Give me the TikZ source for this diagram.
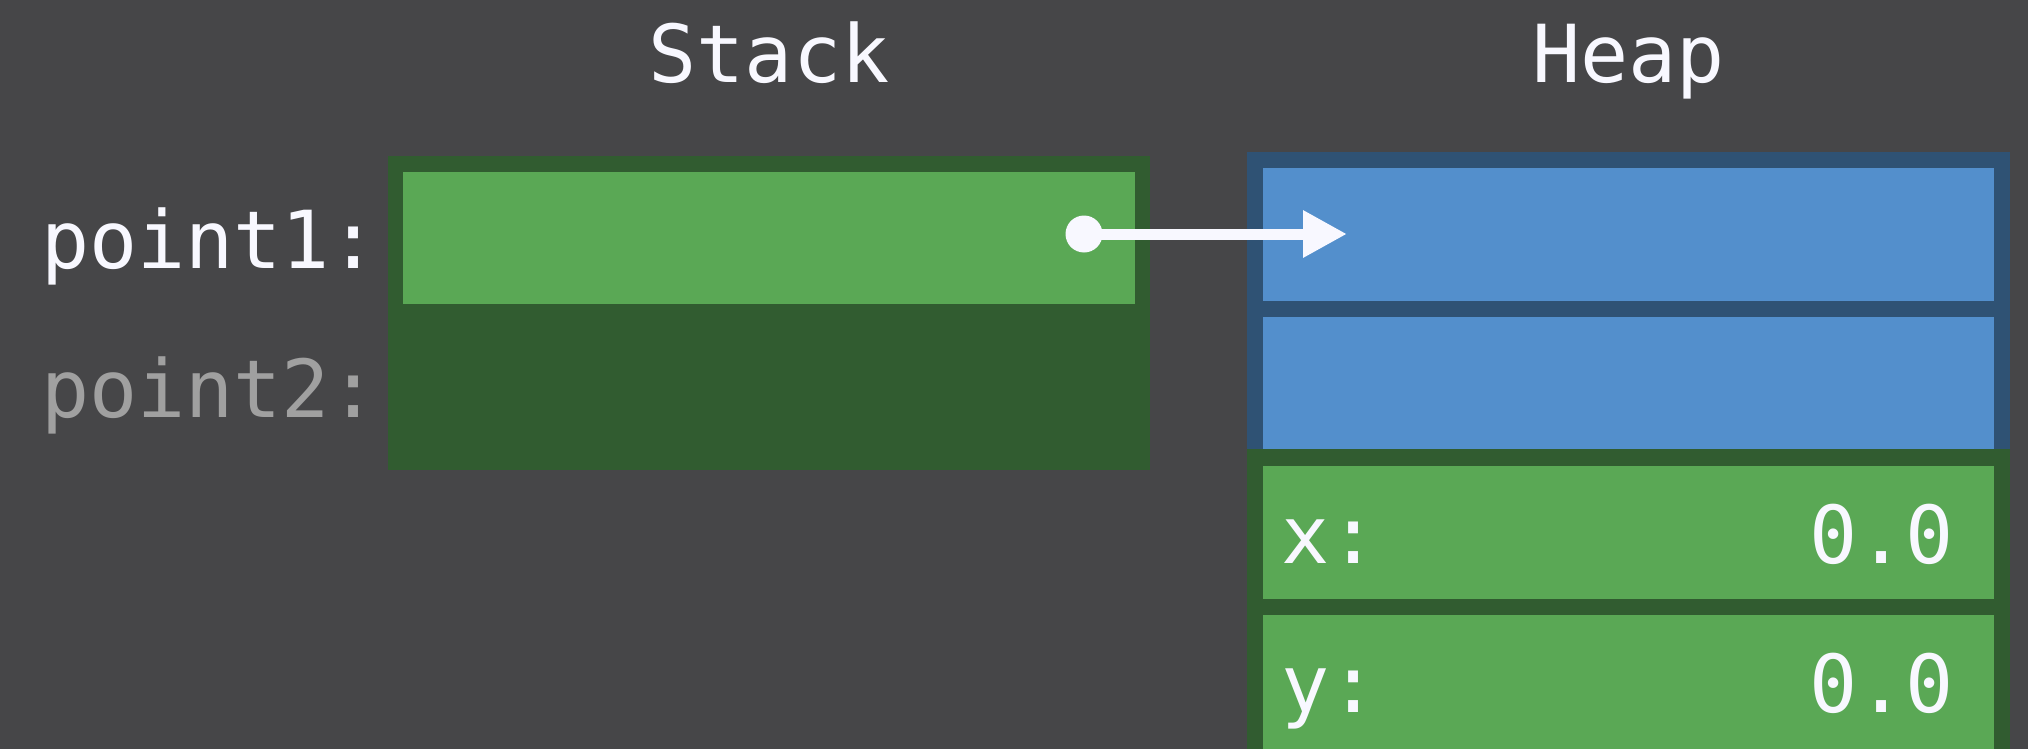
\documentclass[tikz,border=0pt]{standalone}
\usepackage{fontspec}
\setmonofont{DejaVu Sans Mono}
\usetikzlibrary{arrows.meta}
\definecolor{bg}{RGB}{70,70,72}
\definecolor{dkgreen}{RGB}{49,92,48}
\definecolor{ltgreen}{RGB}{90,168,85}
\definecolor{dkblue}{RGB}{47,82,116}
\definecolor{ltblue}{RGB}{83,143,204}
\definecolor{txt}{RGB}{248,248,255}
\definecolor{dimtxt}{RGB}{160,160,160}
\tikzset{
  lbl/.style={inner sep=0pt, outer sep=0pt, text=txt, font=\ttfamily\fontsize{40}{48}\selectfont},
  dimlbl/.style={lbl, text=dimtxt},
  ptrdot/.style={circle, fill=txt, inner sep=0pt, minimum size=18.5pt},
  ptr/.style={draw=txt, line width=5.5pt, -{Triangle[length=22pt,width=22.2pt]}},
}
\begin{document}
\begin{tikzpicture}[x=0.5pt,y=-0.5pt]
\fill[bg] (0,0) rectangle (2028,749);
\useasboundingbox (0,0) rectangle (2028,749);
% stack
\fill[dkgreen] (388,156) rectangle (1150,470);
\fill[ltgreen] (403,171.5) rectangle (1134.5,304);
% heap header (blue)
\fill[dkblue] (1247,152) rectangle (2010,449);
\fill[ltblue] (1263,167.5) rectangle (1993.5,300.5);
\fill[ltblue] (1263,316.5) rectangle (1993.5,449);
% heap point (green)
\fill[dkgreen] (1247,449) rectangle (2010,749);
\fill[ltgreen] (1263,466) rectangle (1993.5,599);
\fill[ltgreen] (1263,615) rectangle (1993.5,749);
% titles
\node[lbl, anchor=base] (stacktitle) at (769,83) {Stack};
\node[lbl, anchor=base] (heaptitle) at (1628.5,83) {Heap};
% stack labels
\node[lbl, anchor=base west] (p1) at (41,268) {point1:};
\node[dimlbl, anchor=base west] (p2) at (41,417) {point2:};
% heap labels
\node[lbl, anchor=base west] (xl) at (1281,563) {x:};
\node[lbl, anchor=base east] (xv) at (1954,563) {0.0};
\node[lbl, anchor=base west] (yl) at (1281,712) {y:};
\node[lbl, anchor=base east] (yv) at (1954,712) {0.0};
% pointer
\node[ptrdot] (dot) at (1084,234) {};
\coordinate (tip) at (1347,234);
\draw[ptr] (dot.center) -- (tip);
\end{tikzpicture}
\end{document}
